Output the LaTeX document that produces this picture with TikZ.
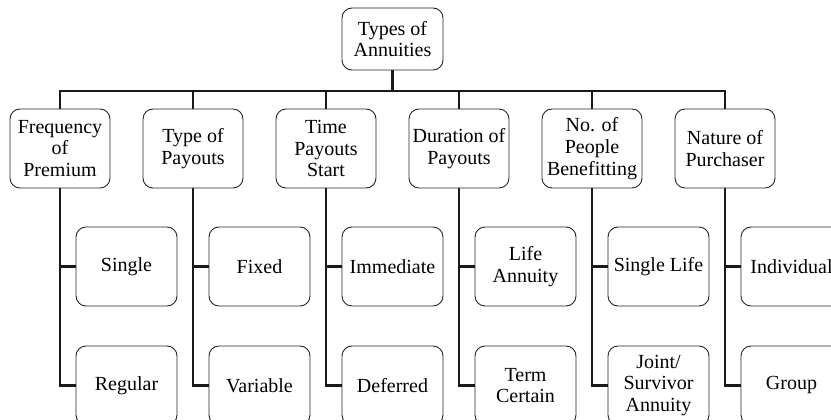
\documentclass[tikz,border=0pt]{standalone}
\usepackage{fontspec}
\setmainfont{Liberation Serif}
\begin{document}
\begin{tikzpicture}[x=1pt,y=1pt,
  box/.style={draw=black!85, line width=0.9pt, rounded corners=10pt, align=center,
    inner sep=0pt, font=\fontsize{20}{21.7}\selectfont},
  rootbox/.style={box, minimum width=101pt, minimum height=62pt},
  catbox/.style={box, minimum width=100pt, minimum height=79pt},
  leafbox/.style={box, minimum width=101pt, minimum height=79pt},
  link/.style={draw=black!90, line width=2.3pt}]
\useasboundingbox (0,0) rectangle (831,-420);
\node[rootbox] (root) at (392.5,-39) {Types of\\Annuities};
\coordinate (bus) at (392.5,-91);
\node[catbox] (c1) at (60,-148.5) {Frequency\\of\\Premium};
\node[catbox] (c2) at (193,-148.5) {Type of\\Payouts};
\node[catbox] (c3) at (326,-148.5) {Time\\Payouts\\Start};
\node[catbox] (c4) at (459,-148.5) {Duration of\\Payouts};
\node[catbox] (c5) at (592,-148.5) {No. of\\People\\Benefitting};
\node[catbox] (c6) at (725,-148.5) {Nature of\\Purchaser};
\node[leafbox] (a1) at (126.5,-266.5) {Single};
\node[leafbox] (b1) at (126.5,-385.5) {Regular};
\node[leafbox] (a2) at (259.5,-266.5) {Fixed};
\node[leafbox] (b2) at (259.5,-385.5) {Variable};
\node[leafbox] (a3) at (392.5,-266.5) {Immediate};
\node[leafbox] (b3) at (392.5,-385.5) {Deferred};
\node[leafbox] (a4) at (525.5,-266.5) {Life\\Annuity};
\node[leafbox] (b4) at (525.5,-385.5) {Term\\Certain};
\node[leafbox] (a5) at (658.5,-266.5) {Single Life};
\node[leafbox] (b5) at (658.5,-385.5) {Joint/\\Survivor\\Annuity};
\node[leafbox] (a6) at (791.5,-266.5) {Individual};
\node[leafbox] (b6) at (791.5,-385.5) {Group};
\draw[link] (root.south) -- (bus);
\foreach \i in {1,...,6}{
  \draw[link] (bus) -| (c\i.north);
  \draw[link] (c\i.south) |- (a\i.west);
  \draw[link] (c\i.south) |- (b\i.west);
}
\end{tikzpicture}
\end{document}
